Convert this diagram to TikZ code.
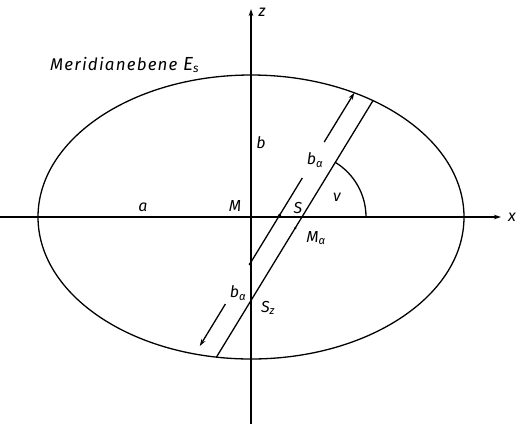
\documentclass[tikz,border=0pt]{standalone}
\usepackage{fontspec}
\setmainfont{Fira Sans}
\usetikzlibrary{arrows.meta}
\begin{document}
\begin{tikzpicture}[x=1bp,y=-1bp,
  lbl/.style={font=\fontsize{16}{18}\selectfont\itshape, inner sep=0pt},
  ln/.style={line width=1.3bp},
  tip/.style={-{Stealth[length=7bp,width=4.5bp]}},
  dotmark/.style={circle,fill,inner sep=0pt,minimum size=3.4bp}]
\useasboundingbox (0,0) rectangle (518,431);
% centre and axes
\coordinate (M) at (251,217);
\coordinate (zb) at (251,424);
\coordinate (zt) at (251,9);
\coordinate (xl) at (0,217);
\coordinate (xr) at (501,217);
\draw[ln] (M) ellipse[x radius=213, y radius=142];
\draw[ln,tip] (zb) -- (zt);
\draw[ln,tip] (xl) -- (xr);
% main chord through S
\coordinate (S) at (302,217);
\coordinate (R1) at (373,100.6);
\coordinate (R2) at (216.5,357);
\draw[ln] (R2) -- (R1);
% parallel dimension line
\coordinate (L1) at (354.3,92.8);
\coordinate (L2) at (324.2,142);
\coordinate (L3) at (302.3,178);
\coordinate (L4) at (249.8,264);
\coordinate (L5) at (225.4,304);
\coordinate (L6) at (199.8,346);
\draw[ln,tip] (L2) -- (L1);
\draw[ln] (L3) -- (L4);
\draw[ln,tip] (L5) -- (L6);
\node[dotmark] (D1) at (279.5,215.3) {};
\node[dotmark,minimum size=2.6bp] (Ma) at (295.3,228) {};
\node[dotmark,minimum size=2.6bp] (D2) at (L4) {};
% angle nu
\coordinate (A0) at (366,217);
\draw[ln] (A0) arc[start angle=0,end angle=-58.6,radius=64];
% labels
\node[lbl] (lz) at (262,12) {z};
\node[lbl] (lx) at (512,217) {x};
\node[lbl,anchor=base west,font=\fontsize{17}{19}\selectfont\itshape\addfontfeature{LetterSpace=7}] (lE) at (50,70) {Meridianebene {\fontsize{19}{19}\selectfont E}\textsubscript{s}};
\node[lbl] (lb) at (261,143) {b};
\node[lbl] (la) at (143,207) {a};
\node[lbl] (lM) at (235,206) {M};
\node[lbl] (lS) at (298,208) {S};
\node[lbl] (lnu) at (337,197) {ν};
\node[lbl] (lba1) at (315,160) {b\textsubscript{α}};
\node[lbl] (lMa) at (316,238) {M\textsubscript{α}};
\node[lbl] (lba2) at (238,293) {b\textsubscript{α}};
\node[lbl] (lSz) at (268,308) {S\textsubscript{z}};
\end{tikzpicture}
\end{document}
